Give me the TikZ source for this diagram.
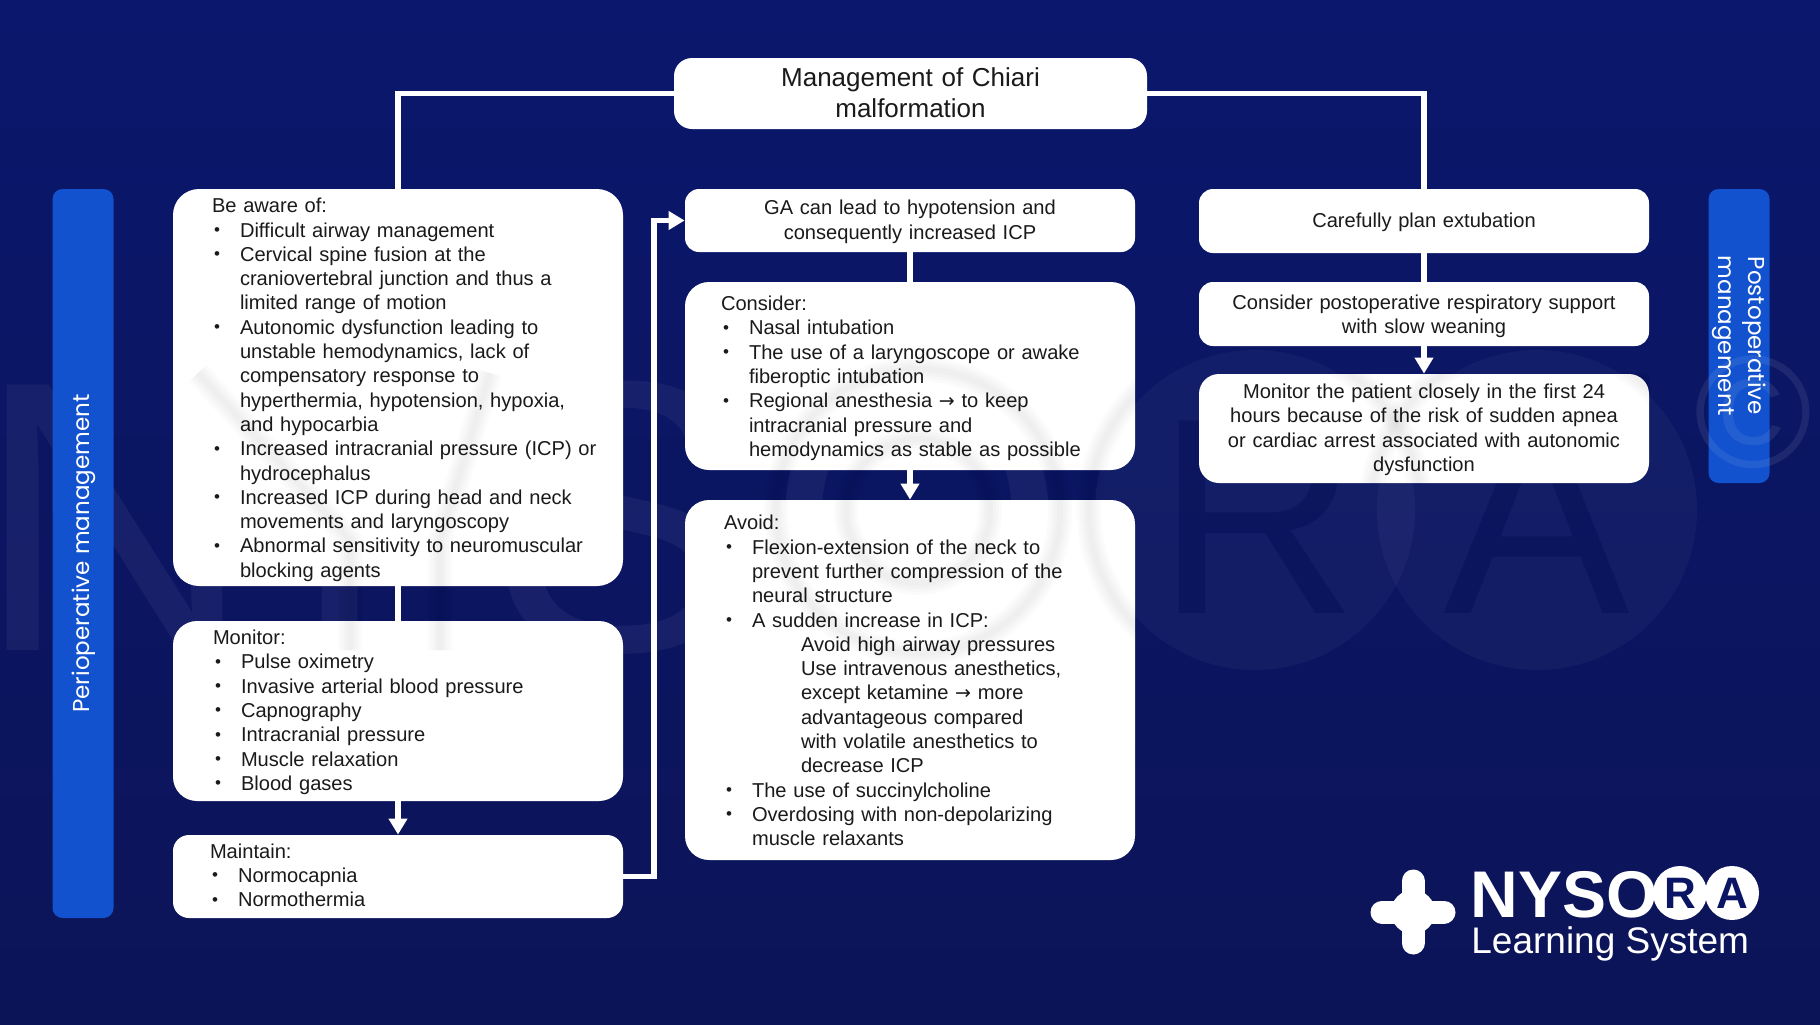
\documentclass[tikz,border=0pt]{standalone}
\usepackage{fontspec}
\setmainfont{Liberation Sans}
\newfontfamily\barfont{Poppins}
\newfontfamily\symfont{DejaVu Sans}
\usetikzlibrary{arrows.meta,positioning,calc,shapes}

\definecolor{navy}{HTML}{0A1564}
\definecolor{navytop}{HTML}{0A176C}
\definecolor{navylow}{HTML}{0C1458}
\definecolor{barblue}{HTML}{1252CE}
\definecolor{inktext}{HTML}{1A1A1A}

\newcommand{\dotmark}{\makebox[14pt][l]{\hspace{1pt}\raisebox{.8pt}{\fontsize{8.5}{8.5}\selectfont\textbullet}}}
\newcommand{\itm}[1]{\dotmark\mbox{#1}}
\newcommand{\cnt}[1]{\hspace*{14pt}\mbox{#1}}
\newcommand{\sub}[1]{\hspace*{38.5pt}\mbox{#1}}
\newcommand{\rarr}{{\symfont\fontsize{9.5}{9.5}\selectfont →}}
% first and last line struts, they move a text block inside its box
\newcommand{\uphold}[1]{\rule{0pt}{#1}}
\newcommand{\downhold}[1]{\rule[-#1]{0pt}{#1}}

\tikzset{
  base/.style={fill=white,text=inktext,inner ysep=0pt,font=\fontsize{10.05}{12.15}\selectfont},
  cbox/.style={base,rounded corners=7pt,minimum width=225pt,minimum height=#1,inner xsep=6pt,text width=213pt,align=center},
  lbox/.style={base,rounded corners=12pt,minimum width=225pt,align=left},
  bar/.style={fill=barblue,text=white,rounded corners=5pt,inner sep=0pt,minimum height=30.5pt,align=center,font=\barfont\fontsize{11.5}{15}\selectfont},
  link/.style={draw=white,line width=2.8pt},
  flow/.style={link,-{Triangle[length=8pt,width=9pt]}},
  ghost/.style={white,opacity=.05,inner sep=0pt,anchor=base},
  halo/.style={draw=black,opacity=.014}
}

\begin{document}
\begin{tikzpicture}[x=.5pt,y=-.5pt]
  \useasboundingbox (0,0) rectangle (1820,1024);
  \shade [top color=navytop,bottom color=navylow] (0,0) rectangle (1820,1024);

  % big letters behind everything
  \foreach \ch/\cx in {N/115,Y/340,S/620,O/918}
    \node [ghost,font=\fontsize{193}{193}\selectfont] (mark\ch) at (\cx,650) {\ch};
  \fill [white,opacity=.035] (1255,510) circle (160);
  \fill [white,opacity=.035] (1537,510) circle (160);
  \node [navy!90!black,opacity=.7,inner sep=0pt,anchor=base,font=\fontsize{140}{140}\selectfont] (markR) at (1258,613) {R};
  \node [navy!90!black,opacity=.7,inner sep=0pt,anchor=base,font=\fontsize{140}{140}\selectfont] (markA) at (1537,613) {A};

  \node [bar,minimum width=364.5pt,rotate=90] (periop) at (83,553.5) {\raisebox{-3pt}[0pt][0pt]{Perioperative management}};
  \node [bar,minimum width=147pt,rotate=-90] (postop) at (1739,336) {Postoperative\\management};
  \node [white,opacity=.08,inner sep=0pt,font=\fontsize{80}{80}\selectfont] (markC) at (1753,412) {©};

  \node [cbox=35.5pt,minimum width=236.5pt,text width=224.5pt,rounded corners=9pt,font=\fontsize{13}{15.6}\selectfont] (title) at (910.5,93.5) {Management of Chiari\\malformation\downhold{1.2pt}};

  \node [lbox,rounded corners=13pt,minimum height=198.5pt,inner xsep=19.5pt,text width=186pt] (aware) at (398,387.5) {\uphold{9.6pt}Be aware of:\\
    \itm{Difficult airway management}\\
    \itm{Cervical spine fusion at the}\\
    \cnt{craniovertebral junction and thus a}\\
    \cnt{limited range of motion}\\
    \itm{Autonomic dysfunction leading to}\\
    \cnt{unstable hemodynamics, lack of}\\
    \cnt{compensatory response to}\\
    \cnt{hyperthermia, hypotension, hypoxia,}\\
    \cnt{and hypocarbia}\\
    \itm{Increased intracranial pressure (ICP) or}\\
    \cnt{hydrocephalus}\\
    \itm{Increased ICP during head and neck}\\
    \cnt{movements and laryngoscopy}\\
    \itm{Abnormal sensitivity to neuromuscular}\\
    \cnt{blocking agents}};
  \node [lbox,minimum height=90pt,inner xsep=20pt,text width=185pt] (monitor) at (398,711) {\uphold{8.5pt}Monitor:\\
    \itm{Pulse oximetry}\\
    \itm{Invasive arterial blood pressure}\\
    \itm{Capnography}\\
    \itm{Intracranial pressure}\\
    \itm{Muscle relaxation}\\
    \itm{Blood gases}};
  \node [lbox,rounded corners=8pt,minimum height=41.5pt,inner xsep=18.5pt,text width=188pt] (maintain) at (398,876.5) {Maintain:\\
    \itm{Normocapnia}\\
    \itm{Normothermia}\downhold{1.2pt}};

  \node [cbox=31.5pt] (hypo) at (910,220.5) {\uphold{8.5pt}GA can lead to hypotension and\\consequently increased ICP};
  \node [lbox,minimum height=94pt,inner xsep=18pt,text width=189pt] (consider) at (910,376) {\uphold{9.6pt}Consider:\\
    \itm{Nasal intubation}\\
    \itm{The use of a laryngoscope or awake}\\
    \cnt{fiberoptic intubation}\\
    \itm{Regional anesthesia \rarr{} to keep}\\
    \cnt{intracranial pressure and}\\
    \cnt{hemodynamics as stable as possible}};
  \node [lbox,minimum height=180pt,inner xsep=19.5pt,text width=186pt] (avoid) at (910,680) {\uphold{7.9pt}Avoid:\\
    \itm{Flexion-extension of the neck to}\\
    \cnt{prevent further compression of the}\\
    \cnt{neural structure}\\
    \itm{A sudden increase in ICP:}\\
    \sub{Avoid high airway pressures}\\
    \sub{Use intravenous anesthetics,}\\
    \sub{except ketamine \rarr{} more}\\
    \sub{advantageous compared}\\
    \sub{with volatile anesthetics to}\\
    \sub{decrease ICP}\\
    \itm{The use of succinylcholine}\\
    \itm{Overdosing with non-depolarizing}\\
    \cnt{muscle relaxants}};

  \node [cbox=32pt] (extub) at (1424,221) {\uphold{8.5pt}Carefully plan extubation};
  \node [cbox=32pt] (support) at (1424,314) {\uphold{9.6pt}Consider postoperative respiratory support\\with slow weaning};
  \node [cbox=54.5pt,rounded corners=10pt] (watch) at (1424,428.5) {\uphold{8.5pt}Monitor the patient closely in the first 24\\hours because of the risk of sudden apnea\\or cardiac arrest associated with autonomic\\dysfunction};

  \draw [link] (title.west) -| (aware.north);
  \draw [link] (title.east) -| (extub.north);
  \draw [link] (aware.south) -- (monitor.north);
  \draw [flow] (monitor.south) -- (maintain.north);
  \coordinate (turn) at (654,876.5);
  \draw [flow] (maintain.east) -- (turn) |- (hypo.west);
  \draw [link] (hypo.south) -- (consider.north);
  \draw [flow] (consider.south) -- (avoid.north);
  \draw [link] (extub.south) -- (support.north);
  \draw [flow] (support.south) -- (watch.north);

  % soft shade of the big letters where they cross the white boxes
  \begin{scope}
    \clip (aware.north west) rectangle (maintain.south east)
      (consider.north west) rectangle (avoid.south east)
      (watch.north west) rectangle (watch.south east);
    \foreach \w in {3,6,9,12} {
      \draw [halo,line width=\w pt] (918,511) circle (142);
      \draw [halo,line width=\w pt] (918,511) circle (72);
      \draw [halo,line width=\w pt] (1255,510) circle (166);
      \draw [halo,line width=\w pt] (1537,510) circle (166);
      \draw [halo,line width=\w pt] (198,373) -- (350,540) -- (350,650);
      \draw [halo,line width=\w pt] (490,373) -- (440,540) -- (440,650);
    }
  \end{scope}

  % logo
  \coordinate (plus) at (1413,912);
  \fill [white] (plus) circle (22);
  \draw [white,line width=11.5pt,line cap=round] ($(plus)+(-31,0)$) -- ($(plus)+(31,0)$);
  \draw [white,line width=11.5pt,line cap=round] ($(plus)+(0,-31)$) -- ($(plus)+(0,31)$);
  \node [white,inner sep=0pt,anchor=base west,font=\bfseries\fontsize{33}{33}\selectfont] (brand) at (1470,917) {NYSO};
  \node [circle,fill=white,text=navy,inner sep=0pt,minimum size=27pt,font=\bfseries\fontsize{22}{22}\selectfont] (brandR) at (1680,893) {R};
  \node [circle,fill=white,text=navy,inner sep=0pt,minimum size=27pt,font=\bfseries\fontsize{22}{22}\selectfont] (brandA) at (1732,893) {A};
  \node [white,inner sep=0pt,anchor=base west,font=\fontsize{18.5}{18.5}\selectfont] (brandsub) at (1471,953) {Learning System};
\end{tikzpicture}
\end{document}
